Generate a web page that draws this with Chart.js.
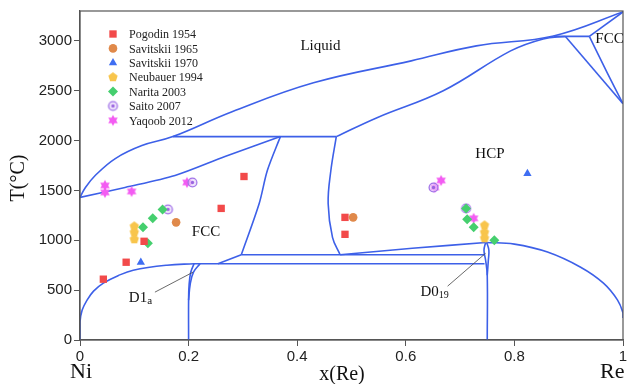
<!DOCTYPE html>
<html>
<head>
<meta charset="utf-8">
<script src="https://cdn.jsdelivr.net/npm/chart.js@4.4.1/dist/chart.umd.min.js"></script>
<style>
  html, body { margin: 0; padding: 0; background: #fff; }
</style>
</head>
<body>
<canvas id="phaseChart" width="630" height="384"></canvas>
<script>
// --- measured points (x = mole fraction Re, T in °C) ---
const seriesNames = ['Pogodin 1954', 'Savitskii 1965', 'Savitskii 1970', 'Neubauer 1994', 'Narita 2003', 'Saito 2007', 'Yaqoob 2012'];

const pogodinX = [0.043, 0.085, 0.118, 0.26, 0.302, 0.488, 0.488];
const pogodinT = [610, 780, 990, 1320, 1640, 1230, 1060];
const savitskii65X = [0.177, 0.503];
const savitskii65T = [1180, 1230];
const savitskii70X = [0.112, 0.824];
const savitskii70T = [780, 1670];
const neubauerX = [0.1, 0.1, 0.1, 0.745, 0.745, 0.745];
const neubauerT = [1140, 1080, 1010, 1150, 1080, 1020];
const naritaX = [0.116, 0.125, 0.134, 0.152, 0.711, 0.713, 0.725, 0.763];
const naritaT = [1130, 970, 1220, 1310, 1320, 1210, 1130, 1000];
const saitoX = [0.162, 0.207, 0.651, 0.711];
const saitoT = [1310, 1580, 1530, 1320];
const yaqoobX = [0.046, 0.046, 0.095, 0.197, 0.653, 0.665, 0.725];
const yaqoobT = [1550, 1480, 1490, 1580, 1530, 1600, 1220];

// --- phase boundaries, [x, T] ---
const liquidus = [[0, 1430], [0.01, 1530], [0.028, 1650], [0.065, 1820], [0.114, 1950], [0.171, 2040], [0.28, 2290], [0.43, 2580], [0.61, 2800], [0.73, 2950], [0.872, 3050], [1, 3290]];
const fccSolidus = [[0, 1430], [0.083, 1530], [0.175, 1650], [0.267, 1840], [0.369, 2040]];
const peritectic = [[0.171, 2040], [0.472, 2040]];
const fccSolvus = [[0.369, 2040], [0.345, 1700], [0.33, 1370], [0.297, 855]];
const hcpSolvus = [[0.472, 2040], [0.462, 1700], [0.457, 1370], [0.465, 1030], [0.479, 855]];
const hcpSolidus = [[0.472, 2040], [0.547, 2230], [0.669, 2500], [0.793, 2900], [0.853, 3020], [0.894, 3045]];
const reHorizontal = [[0.872, 3045], [0.938, 3045]];
const reFccTop = [[0.938, 3045], [1, 3290]];
const reFccLeft = [[0.894, 3045], [1, 2370]];
const reFccRight = [[0.938, 3045], [0.971, 2680], [1, 2370]];
const niDome = [[0, 0], [0, 180], [0.004, 300], [0.013, 400], [0.025, 490], [0.043, 570], [0.07, 645], [0.098, 700], [0.16, 750], [0.21, 765]];
const lowerEutectoid = [[0.208, 765], [0.745, 765]];
const fccStep = [[0.254, 765], [0.297, 855]];
const upperEutectoid = [[0.297, 855], [0.745, 855]];
const hcpLower = [[0.479, 855], [0.612, 920], [0.747, 978]];
const reDome = [[0.747, 978], [0.8, 962], [0.861, 882], [0.922, 730], [0.964, 570], [0.99, 400], [1, 270], [1, 220]];
const d1aLeft = [[0.2, 0], [0.2, 400], [0.201, 560], [0.204, 680], [0.21, 765]];
const d1aRight = [[0.2, 400], [0.203, 560], [0.209, 680], [0.221, 765]];
const d019Left = [[0.75, 0], [0.75, 650], [0.747, 800], [0.744, 900], [0.747, 978]];
const d019Right = [[0.75, 650], [0.752, 800], [0.753, 900], [0.749, 978]];

const xTicks = [0, 0.2, 0.4, 0.6, 0.8, 1];
const yTicks = [0, 500, 1000, 1500, 2000, 2500, 3000];

// --- custom markers ---
function marker(size, draw) {
    const c = document.createElement('canvas');
    c.width = c.height = size;
    const g = c.getContext('2d');
    draw(g, size / 2);
    return c;
}

const pentagon = marker(12, (g, m) => {
    g.beginPath();
    for (let i = 0; i < 5; i++) {
        const a = -Math.PI / 2 + i * 2 * Math.PI / 5;
        g.lineTo(m + 4.9 * Math.cos(a), m + 4.9 * Math.sin(a));
    }
    g.closePath();
    g.fillStyle = '#f8c54c';
    g.fill();
});

const star6 = marker(14, (g, m) => {
    g.beginPath();
    for (let i = 0; i < 12; i++) {
        const a = -Math.PI / 2 + i * Math.PI / 6;
        const r = i % 2 === 0 ? 5.6 : 3.1;
        g.lineTo(m + r * Math.cos(a), m + r * Math.sin(a));
    }
    g.closePath();
    g.fillStyle = '#f35cf2';
    g.fill();
});

const ringDot = marker(13, (g, m) => {
    g.beginPath();
    g.arc(m, m, 4.4, 0, Math.PI * 2);
    g.fillStyle = 'rgba(228,210,250,0.6)';
    g.fill();
    g.lineWidth = 1.3;
    g.strokeStyle = '#a274e8';
    g.stroke();
    g.beginPath();
    g.arc(m, m, 1.7, 0, Math.PI * 2);
    g.fillStyle = '#9a64e0';
    g.fill();
});

const zip = (xs, ts) => xs.map((x, i) => ({ x: x, y: ts[i] }));

const pointSeries = [
    { data: zip(pogodinX, pogodinT), color: '#f24a4a', style: 'rect', radius: 5.2 },
    { data: zip(savitskii65X, savitskii65T), color: '#e0894a', style: 'circle', radius: 4.3 },
    { data: zip(savitskii70X, savitskii70T), color: '#3f6ef2', style: 'triangle', radius: 4.8 },
    { data: zip(neubauerX, neubauerT), color: '#f8c54c', style: pentagon, radius: 5 },
    { data: zip(naritaX, naritaT), color: '#45cf6e', style: 'rectRot', radius: 5 },
    { data: zip(saitoX, saitoT), color: '#a274e8', style: ringDot, radius: 5 },
    { data: zip(yaqoobX, yaqoobT), color: '#f35cf2', style: star6, radius: 5 }
];

const boundaries = [
    [liquidus, 0.4], [fccSolidus, 0.3], [peritectic, 0], [fccSolvus, 0.3], [hcpSolvus, 0.4],
    [hcpSolidus, 0.4], [reHorizontal, 0], [reFccTop, 0], [reFccLeft, 0], [reFccRight, 0.3],
    [niDome, 0.4], [lowerEutectoid, 0], [fccStep, 0], [upperEutectoid, 0], [hcpLower, 0.3],
    [reDome, 0.4], [d1aLeft, 0.4], [d1aRight, 0.4], [d019Left, 0.4], [d019Right, 0.4]
];

const datasets = [];
pointSeries.forEach((s, i) => {
    datasets.push({
        label: seriesNames[i],
        data: s.data,
        pointStyle: s.style,
        pointRadius: s.radius,
        pointBackgroundColor: s.color,
        pointBorderColor: s.color,
        pointBorderWidth: 0,
        showLine: false,
        order: 0
    });
});
boundaries.forEach(([pts, tension]) => {
    datasets.push({
        label: '',
        data: pts.map(p => ({ x: p[0], y: p[1] })),
        showLine: true,
        borderColor: '#3d60e8',
        borderWidth: 1.6,
        pointRadius: 0,
        tension: tension,
        fill: false,
        order: 1
    });
});

// labels, legend, frame drawn on top of the chart
const overlay = {
    id: 'overlay',
    afterDraw(chart) {
        const { ctx, chartArea: a, scales: { x, y } } = chart;
        const px = v => x.getPixelForValue(v);
        const py = v => y.getPixelForValue(v);
        ctx.save();

        ctx.strokeStyle = '#555';
        ctx.lineWidth = 1.2;
        ctx.strokeRect(a.left, a.top, a.right - a.left, a.bottom - a.top);

        // leader lines to the intermetallics
        ctx.strokeStyle = '#444';
        ctx.lineWidth = 0.8;
        ctx.beginPath();
        ctx.moveTo(px(0.138), py(480)); ctx.lineTo(px(0.208), py(680));
        ctx.moveTo(px(0.677), py(540)); ctx.lineTo(px(0.747), py(870));
        ctx.stroke();

        ctx.fillStyle = '#111';
        ctx.textBaseline = 'middle';
        ctx.textAlign = 'left';
        ctx.font = '15px "Liberation Serif"';
        ctx.fillText('Liquid', px(0.406), py(2950));
        ctx.fillText('HCP', px(0.728), py(1870));
        ctx.fillText('FCC', px(0.206), py(1080));
        ctx.fillText('FCC', px(0.949), py(3020));

        // D1a and D0_19 with small subscripts
        let tx = px(0.09), ty = py(420);
        ctx.fillText('D1', tx, ty);
        let w = ctx.measureText('D1').width;
        ctx.font = '11px "Liberation Serif"';
        ctx.fillText('a', tx + w, ty + 3);
        ctx.font = '15px "Liberation Serif"';
        tx = px(0.627); ty = py(480);
        ctx.fillText('D0', tx, ty);
        w = ctx.measureText('D0').width;
        ctx.font = '10px "Liberation Serif"';
        ctx.fillText('19', tx + w, ty + 3);

        // axis end labels and titles
        ctx.font = '22px "Liberation Serif"';
        ctx.fillText('Ni', 70, 372);
        ctx.fillText('Re', 600, 372);
        ctx.textAlign = 'center';
        ctx.font = '20px "Liberation Serif"';
        ctx.fillText('x(Re)', 342, 375);
        ctx.save();
        ctx.translate(19, 178);
        ctx.rotate(-Math.PI / 2);
        ctx.fillText('T(°C)', 0, 0);
        ctx.restore();

        // legend inside the plot
        ctx.textAlign = 'left';
        ctx.font = '12px "Liberation Serif"';
        pointSeries.forEach((s, i) => {
            const ly = 34 + i * 14.4;
            ctx.fillStyle = s.color;
            ctx.strokeStyle = s.color;
            Chart.helpers.drawPoint(ctx, { pointStyle: s.style, radius: s.radius, rotation: 0, borderWidth: 0 }, 113, ly);
            ctx.fillStyle = '#222';
            ctx.fillText(seriesNames[i], 129, ly + 1);
        });
        ctx.restore();
    }
};

const tickFont = { family: 'Liberation Sans', size: 15 };

new Chart(document.getElementById('phaseChart'), {
    type: 'scatter',
    data: { datasets: datasets },
    options: {
        responsive: false,
        animation: false,
        layout: { padding: { top: 10, right: 7, left: 0, bottom: 0 } },
        plugins: { legend: { display: false }, tooltip: { enabled: false } },
        scales: {
            x: {
                type: 'linear', min: xTicks[0], max: xTicks[xTicks.length - 1],
                afterBuildTicks: s => { s.ticks = xTicks.map(v => ({ value: v })); },
                ticks: { callback: v => String(+v.toFixed(1)), font: tickFont, color: '#222', padding: 2, maxRotation: 0 },
                grid: { drawOnChartArea: false, tickLength: 6, color: '#555' },
                border: { color: '#555', width: 1.2 },
                afterFit: s => { s.height = 44; }
            },
            y: {
                type: 'linear', min: 0, max: 3300,
                afterBuildTicks: s => { s.ticks = yTicks.map(v => ({ value: v })); },
                ticks: { callback: v => String(v), font: tickFont, color: '#222', padding: 2 },
                grid: { drawOnChartArea: false, tickLength: 6, color: '#555' },
                border: { color: '#555', width: 1.2 },
                afterFit: s => { s.width = 80; }
            }
        }
    },
    plugins: [overlay]
});
</script>
</body>
</html>
